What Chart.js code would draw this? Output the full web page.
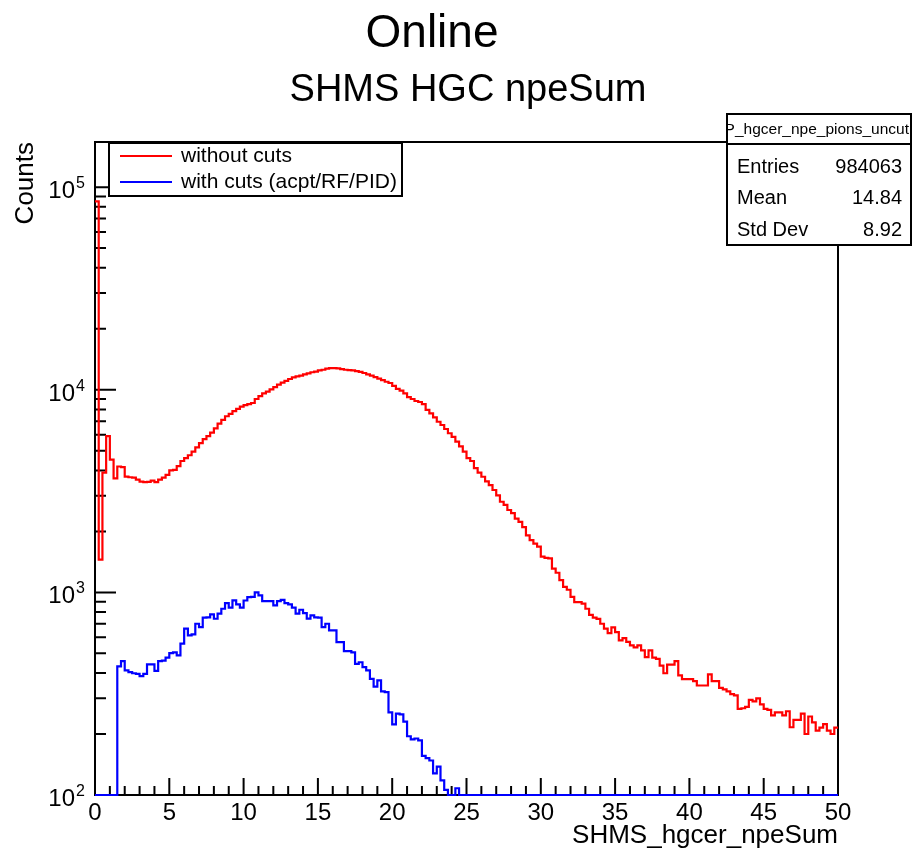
<!DOCTYPE html>
<html><head><meta charset="utf-8">
<script src="https://cdn.jsdelivr.net/npm/chart.js@4/dist/chart.umd.min.js"></script>
<style>html,body{margin:0;padding:0;background:#fff;overflow:hidden}#wrap{width:913px;height:854px;position:relative}</style>
</head><body><div id="wrap"><canvas id="c" width="913" height="854"></canvas></div>
<script>
// ---- data ----
const binWidth = 0.25;
const xRange = [0, 50];
const xTickLabels = [0, 5, 10, 15, 20, 25, 30, 35, 40, 45, 50];
const yDecadeExponents = [2, 3, 4, 5];
const yRange = [100, 167000];
const seriesNames = ['without cuts', 'with cuts (acpt/RF/PID)'];
const titleText = 'Online';
const subtitleText = 'SHMS HGC npeSum';
const xAxisTitle = 'SHMS_hgcer_npeSum';
const yAxisTitle = 'Counts';
const statsName = 'P_hgcer_npe_pions_uncut';
const statsLabels = ['Entries', 'Mean', 'Std Dev'];
const statsValues = ['984063', '14.84', '8.92'];

const redCounts = [
85000,1450,3900,5900,4520,3650,4180,4150,3730,3700,
3680,3600,3520,3500,3510,3560,3500,3600,3680,3800,
4000,4020,4200,4450,4600,4750,4950,5200,5450,5700,
5900,6150,6450,6800,7100,7400,7600,7850,8050,8250,
8400,8500,8600,9000,9300,9600,9800,10050,10300,10600,
10850,11050,11300,11500,11650,11750,11900,12050,12200,12300,
12450,12550,12700,12800,12800,12750,12650,12550,12500,12450,
12350,12250,12100,11900,11750,11550,11350,11150,10950,10800,
10450,10100,9900,9600,9200,9000,8800,8700,8500,7950,
7650,7300,6950,6700,6400,6100,5850,5550,5250,4950,
4600,4450,4100,3900,3720,3530,3380,3200,3010,2800,
2700,2550,2460,2310,2230,2100,1910,1810,1740,1680,
1500,1480,1470,1310,1250,1150,1065,1030,950,895,
895,880,830,775,750,740,700,662,630,672,
637,580,595,570,547,535,547,517,479,517,
476,470,435,399,440,440,458,389,373,373,
373,365,347,347,347,394,365,365,338,332,
325,315,310,266,268,272,295,290,300,280,
266,263,247,256,256,247,259,216,235,235,
252,200,244,228,208,215,224,208,200,215
];
const blueCounts = [
0,0,0,0,0,0,431,458,412,404,
399,396,386,396,441,441,410,458,460,476,
501,506,489,558,662,613,621,700,674,750,
753,778,741,785,830,885,840,913,872,840,
912,948,950,1000,966,906,906,906,863,906,
919,886,872,840,785,821,790,742,770,753,
750,674,700,650,650,568,568,513,513,506,
444,452,428,412,374,343,368,325,322,256,
223,252,250,230,195,188,190,186,156,152,
148,128,138,118,106,0,0,108,0,0,
0,0,0,0,0,0,0,0,0,0,
0,0,0,0,0,0,0,0,0,0,
0,0,0,0,0,0,0,0,0,0,
0,0,0,0,0,0,0,0,0,0,
0,0,0,0,0,0,0,0,0,0,
0,0,0,0,0,0,0,0,0,0,
0,0,0,0,0,0,0,0,0,0,
0,0,0,0,0,0,0,0,0,0,
0,0,0,0,0,0,0,0,0,0,
0,0,0,0,0,0,0,0,0,0
];

// ---- build step outlines (ROOT draws empty bins on the frame floor) ----
function outline(counts) {
  const pts = [];
  counts.forEach((v, i) => {
    const y = v > 0 ? v : yRange[0];
    pts.push({x: i * binWidth, y: y});
    pts.push({x: (i + 1) * binWidth, y: y});
  });
  return pts;
}

const FONT = '"Liberation Sans", Arial, Helvetica, sans-serif';

const rootPlugin = {
  id: 'rootStyle',
  beforeDatasetsDraw(chart) {
    const ctx = chart.ctx, a = chart.chartArea;
    const xs = chart.scales.x, ys = chart.scales.y;
    ctx.save();
    ctx.strokeStyle = '#000'; ctx.lineWidth = 2;
    ctx.strokeRect(a.left, a.top, a.right - a.left, a.bottom - a.top);
    ctx.beginPath();
    for (let v = xRange[0]; v <= xRange[1]; v += 1) {
      const px = xs.getPixelForValue(v);
      const len = (v % 5 === 0) ? 17 : 9;
      ctx.moveTo(px, a.bottom); ctx.lineTo(px, a.bottom - len);
    }
    yDecadeExponents.forEach(e => {
      for (let m = 1; m <= 9; m++) {
        const v = m * Math.pow(10, e);
        if (v < yRange[0] || v > yRange[1]) continue;
        const py = ys.getPixelForValue(v);
        const len = m === 1 ? 21 : 11;
        ctx.moveTo(a.left, py); ctx.lineTo(a.left + len, py);
      }
    });
    ctx.stroke();
    ctx.fillStyle = '#000';
    ctx.font = '24px ' + FONT;
    ctx.textAlign = 'center'; ctx.textBaseline = 'alphabetic';
    xTickLabels.forEach(v => {
      ctx.fillText(String(v), xs.getPixelForValue(v), a.bottom + 25);
    });
    yDecadeExponents.forEach(e => {
      const py = ys.getPixelForValue(Math.pow(10, e));
      ctx.font = '24px ' + FONT;
      ctx.textAlign = 'right';
      ctx.fillText('10', 75, py + 11);
      ctx.font = '16px ' + FONT;
      ctx.textAlign = 'left';
      ctx.fillText(String(e), 76, py + 1);
    });
    ctx.font = '26px ' + FONT;
    ctx.textAlign = 'right';
    ctx.fillText(xAxisTitle, a.right, a.bottom + 48);
    ctx.save();
    ctx.translate(33, a.top);
    ctx.rotate(-Math.PI / 2);
    ctx.textAlign = 'right';
    ctx.fillText(yAxisTitle, 0, 0);
    ctx.restore();
    ctx.textAlign = 'center';
    ctx.font = '46px ' + FONT;
    ctx.fillText(titleText, 432, 47);
    ctx.font = '38px ' + FONT;
    ctx.fillText(subtitleText, 468, 101);
    ctx.restore();
  },
  afterDraw(chart) {
    const ctx = chart.ctx;
    ctx.save();
    ctx.fillStyle = '#fff';
    ctx.fillRect(109, 143, 293, 53);
    ctx.strokeStyle = '#000'; ctx.lineWidth = 2;
    ctx.strokeRect(109, 143, 293, 53);
    const colors = chart.data.datasets.map(d => d.borderColor);
    const rows = [156, 182];
    ctx.font = '21px ' + FONT;
    ctx.textBaseline = 'middle'; ctx.textAlign = 'left';
    seriesNames.forEach((n, i) => {
      ctx.strokeStyle = colors[i]; ctx.lineWidth = 2;
      ctx.beginPath(); ctx.moveTo(120, rows[i]); ctx.lineTo(172, rows[i]); ctx.stroke();
      ctx.fillStyle = '#000';
      ctx.fillText(n, 181, rows[i]);
    });
    ctx.fillStyle = '#fff';
    ctx.fillRect(727, 114, 184, 131);
    ctx.strokeStyle = '#000'; ctx.lineWidth = 2;
    ctx.strokeRect(727, 114, 184, 30);
    ctx.strokeRect(727, 144, 184, 101);
    ctx.save();
    ctx.beginPath(); ctx.rect(728, 115, 182, 28); ctx.clip();
    ctx.fillStyle = '#000';
    ctx.font = '15.5px ' + FONT;
    ctx.textAlign = 'right';
    ctx.fillText(statsName, 909, 130);
    ctx.restore();
    ctx.fillStyle = '#000';
    ctx.font = '20px ' + FONT;
    const sy = [167, 198, 230];
    statsLabels.forEach((l, i) => {
      ctx.textAlign = 'left'; ctx.fillText(l, 737, sy[i]);
      ctx.textAlign = 'right'; ctx.fillText(statsValues[i], 902, sy[i]);
    });
    ctx.restore();
  }
};

new Chart(document.getElementById('c'), {
  type: 'line',
  data: {
    datasets: [
      {label: seriesNames[0], data: outline(redCounts), borderColor: '#ff0000', borderWidth: 2.2,
       pointRadius: 0, tension: 0, fill: false, clip: false, borderJoinStyle: 'miter'},
      {label: seriesNames[1], data: outline(blueCounts), borderColor: '#0000ff', borderWidth: 2.2,
       pointRadius: 0, tension: 0, fill: false, clip: false, borderJoinStyle: 'miter'}
    ]
  },
  options: {
    responsive: false, animation: false, devicePixelRatio: 1,
    layout: {padding: {left: 95, top: 142, right: 75, bottom: 59}},
    scales: {
      x: {type: 'linear', min: xRange[0], max: xRange[1], display: false},
      y: {type: 'logarithmic', min: yRange[0], max: yRange[1], display: false}
    },
    plugins: {legend: {display: false}, tooltip: {enabled: false}, title: {display: false}}
  },
  plugins: [rootPlugin]
});
</script></body></html>
